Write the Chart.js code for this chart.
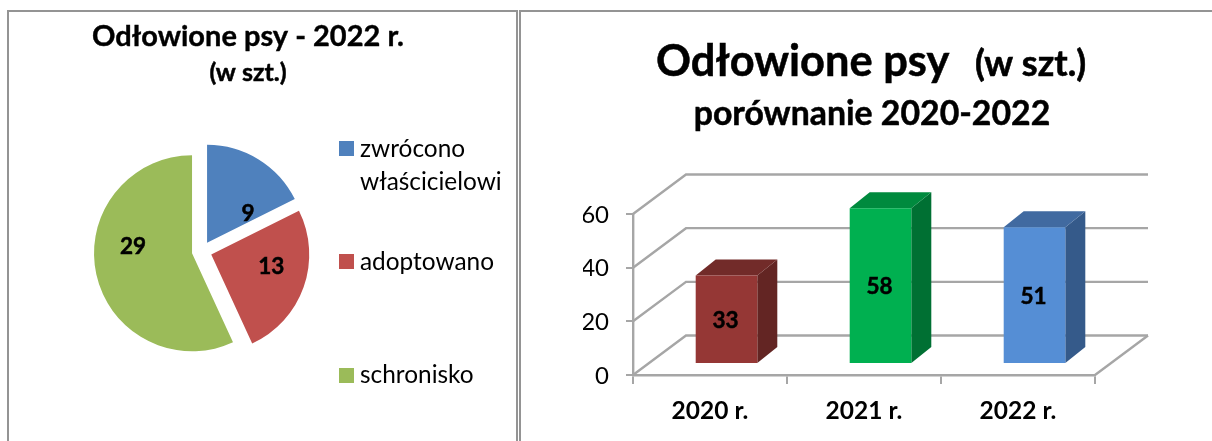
<!DOCTYPE html>
<html lang="pl"><head><meta charset="utf-8">
<style>
html,body{margin:0;padding:0;background:#fff;overflow:hidden}
#wrap{position:relative;width:1212px;height:441px}
canvas{position:absolute;top:0}
.ln{position:absolute;background:#949494}
</style>
<script src="https://cdn.jsdelivr.net/npm/chart.js@4"></script>
</head><body><div id="wrap">
<canvas id="pie" width="516" height="441" style="left:0"></canvas>
<canvas id="bar" width="693" height="441" style="left:519px"></canvas>
<div class="ln" style="left:7px;top:10px;width:2px;height:431px"></div>
<div class="ln" style="left:7px;top:10px;width:511px;height:2px"></div>
<div class="ln" style="left:516px;top:10px;width:2px;height:431px"></div>
<div class="ln" style="left:519px;top:10px;width:693px;height:2px"></div>
<div class="ln" style="left:519px;top:10px;width:2px;height:431px"></div>
</div>
<script>
const pieLabels = ['zwrócono właścicielowi', 'adoptowano', 'schronisko'];
const pieValues = [9, 13, 29];
const pieColors = ['#4F81BD', '#C0504D', '#9BBB59'];
const barLabels = ['2020 r.', '2021 r.', '2022 r.'];
const barValues = [33, 58, 51];
const barFront = ['#953735', '#00B050', '#558ED5'];
const barTop = ['#722B29', '#008A3E', '#416AA0'];
const barSide = ['#632523', '#007033', '#355A8A'];
const yTicks = [0, 20, 40, 60];

const FONT = 'Lato, Carlito, sans-serif';
const GRID = '#A6A6A6';

function txt(ctx, s, x, y, font, align, heavy) {
  ctx.font = font; ctx.textAlign = align || 'left';
  ctx.textBaseline = 'alphabetic'; ctx.fillStyle = '#000';
  ctx.fillText(s, x, y);
  if (heavy) { ctx.strokeStyle = '#000'; ctx.lineWidth = heavy; ctx.strokeText(s, x, y); }
}

const EXPLODE = 10;
const pieLabelShift = [[41, -29], [60, 12], [-59, -7]];
const legendRows = [
  {lines: ['zwrócono', 'właścicielowi'], top: 142},
  {lines: ['adoptowano'], top: 255},
  {lines: ['schronisko'], top: 368}
];
const piePlugin = {
  id: 'pieDecor',
  beforeDatasetDraw(chart) {
    const ctx = chart.ctx;
    const arcs = chart.getDatasetMeta(0).data;
    arcs.forEach(a => {
      const m = (a.startAngle + a.endAngle) / 2;
      ctx.save();
      ctx.translate(Math.cos(m) * EXPLODE, Math.sin(m) * EXPLODE);
      a.draw(ctx);
      ctx.restore();
    });
    return false;
  },
  afterDraw(chart) {
    const ctx = chart.ctx;
    const arcs = chart.getDatasetMeta(0).data;
    arcs.forEach((a, i) => {
      const m = (a.startAngle + a.endAngle) / 2;
      const x = a.x + Math.cos(m) * EXPLODE + pieLabelShift[i][0];
      const y = a.y + Math.sin(m) * EXPLODE + pieLabelShift[i][1];
      ctx.font = 'bold 22.5px ' + FONT; ctx.textAlign = 'center';
      ctx.textBaseline = 'middle'; ctx.fillStyle = '#000';
      ctx.strokeStyle = '#000'; ctx.lineWidth = 0.5;
      ctx.fillText(String(pieValues[i]), x, y);
      ctx.strokeText(String(pieValues[i]), x, y);
    });
    txt(ctx, 'Odłowione psy - 2022 r.', 248, 46, 'bold 29px ' + FONT, 'center', 0.4);
    txt(ctx, '(w szt.)', 248, 81, 'bold 25px ' + FONT, 'center', 0.5);
    legendRows.forEach((r, i) => {
      ctx.fillStyle = pieColors[i];
      ctx.fillRect(339, i === 0 ? r.top - 1 : i === 1 ? r.top - 1 : r.top, 15, 15);
      r.lines.forEach((l, k) => txt(ctx, l, 360, r.top + 15 + k * 33, '24.4px ' + FONT));
    });
  }
};
new Chart(document.getElementById('pie'), {
  type: 'pie',
  data: {labels: pieLabels, datasets: [{data: pieValues, backgroundColor: pieColors, borderWidth: 0}]},
  options: {
    responsive: false, animation: false,
    layout: {padding: {left: 103.8, top: 153.2, right: 216.2, bottom: 91.8}},
    plugins: {legend: {display: false}, tooltip: {enabled: false}}
  },
  plugins: [piePlugin]
});

const WALL = {dx: 53, dy: -39.5};
const BAR_SHIFT = {dx: 16.5, dy: -11};
const BAR_DEPTH = {dx: 20, dy: -16};
const barPlugin = {
  id: 'bar3d',
  beforeDatasetsDraw(chart) {
    const ctx = chart.ctx, {left, right} = chart.chartArea, ys = chart.scales.y;
    ctx.save();
    ctx.strokeStyle = GRID; ctx.lineWidth = 2.4;
    yTicks.forEach(v => {
      const p = ys.getPixelForValue(v);
      ctx.beginPath();
      ctx.moveTo(left, p);
      ctx.lineTo(left + WALL.dx, p + WALL.dy);
      ctx.lineTo(right + WALL.dx, p + WALL.dy);
      ctx.stroke();
    });
    const b = ys.getPixelForValue(0);
    ctx.beginPath(); ctx.moveTo(right, b); ctx.lineTo(right + WALL.dx, b + WALL.dy); ctx.stroke();
    ctx.restore();
  },
  beforeDatasetDraw(chart) {
    const ctx = chart.ctx;
    ctx.save();
    ctx.translate(BAR_SHIFT.dx, BAR_SHIFT.dy);
    chart.getDatasetMeta(0).data.forEach((bar, i) => {
      const l = bar.x - bar.width / 2, r = bar.x + bar.width / 2, t = bar.y, bs = bar.base;
      ctx.fillStyle = barSide[i];
      ctx.beginPath();
      ctx.moveTo(r, t); ctx.lineTo(r + BAR_DEPTH.dx, t + BAR_DEPTH.dy);
      ctx.lineTo(r + BAR_DEPTH.dx, bs + BAR_DEPTH.dy); ctx.lineTo(r, bs);
      ctx.closePath(); ctx.fill();
      ctx.fillStyle = barTop[i];
      ctx.beginPath();
      ctx.moveTo(l, t); ctx.lineTo(l + BAR_DEPTH.dx, t + BAR_DEPTH.dy);
      ctx.lineTo(r + BAR_DEPTH.dx, t + BAR_DEPTH.dy); ctx.lineTo(r, t);
      ctx.closePath(); ctx.fill();
    });
  },
  afterDatasetDraw(chart) {
    const ctx = chart.ctx;
    chart.getDatasetMeta(0).data.forEach((bar, i) => {
      ctx.font = 'bold 22.5px ' + FONT; ctx.textAlign = 'center';
      ctx.textBaseline = 'middle'; ctx.fillStyle = '#000';
      ctx.strokeStyle = '#000'; ctx.lineWidth = 0.5;
      const lx = bar.x - 1, ly = (bar.y + bar.base) / 2 + 1.5;
      ctx.fillText(String(barValues[i]), lx, ly);
      ctx.strokeText(String(barValues[i]), lx, ly);
    });
    ctx.restore();
  },
  afterDraw(chart) {
    const ctx = chart.ctx;
    txt(ctx, 'Odłowione psy', 137, 76, 'bold 43.4px ' + FONT, 'left', 0.5);
    txt(ctx, '(w szt.)', 456, 76, 'bold 36px ' + FONT, 'left', 0.6);
    txt(ctx, 'porównanie 2020-2022', 353, 125, 'bold 33.8px ' + FONT, 'center', 0.5);
  }
};
new Chart(document.getElementById('bar'), {
  type: 'bar',
  data: {labels: barLabels, datasets: [{data: barValues, backgroundColor: barFront, borderWidth: 0, barPercentage: 0.4, categoryPercentage: 1}]},
  options: {
    responsive: false, animation: false,
    layout: {padding: {left: 64, top: 214, right: 117, bottom: 16}},
    plugins: {legend: {display: false}, tooltip: {enabled: false}},
    scales: {
      x: {
        afterFit: s => { s.height = 50; },
        grid: {display: true, drawOnChartArea: false, drawTicks: true, tickLength: 9, color: GRID, lineWidth: 2},
        border: {color: GRID, width: 2.4},
        ticks: {color: '#000', font: {family: FONT, size: 24.5, weight: 'bold'}, padding: 12, maxRotation: 0}
      },
      y: {
        min: 0, max: 60,
        afterFit: s => { s.width = 50; },
        grid: {display: true, drawOnChartArea: false, drawTicks: true, tickLength: 7, color: GRID, lineWidth: 2},
        border: {color: GRID, width: 2.4},
        ticks: {color: '#000', stepSize: 20, font: {family: FONT, size: 24}, padding: 17, labelOffset: 1}
      }
    }
  },
  plugins: [barPlugin]
});
</script></body></html>
